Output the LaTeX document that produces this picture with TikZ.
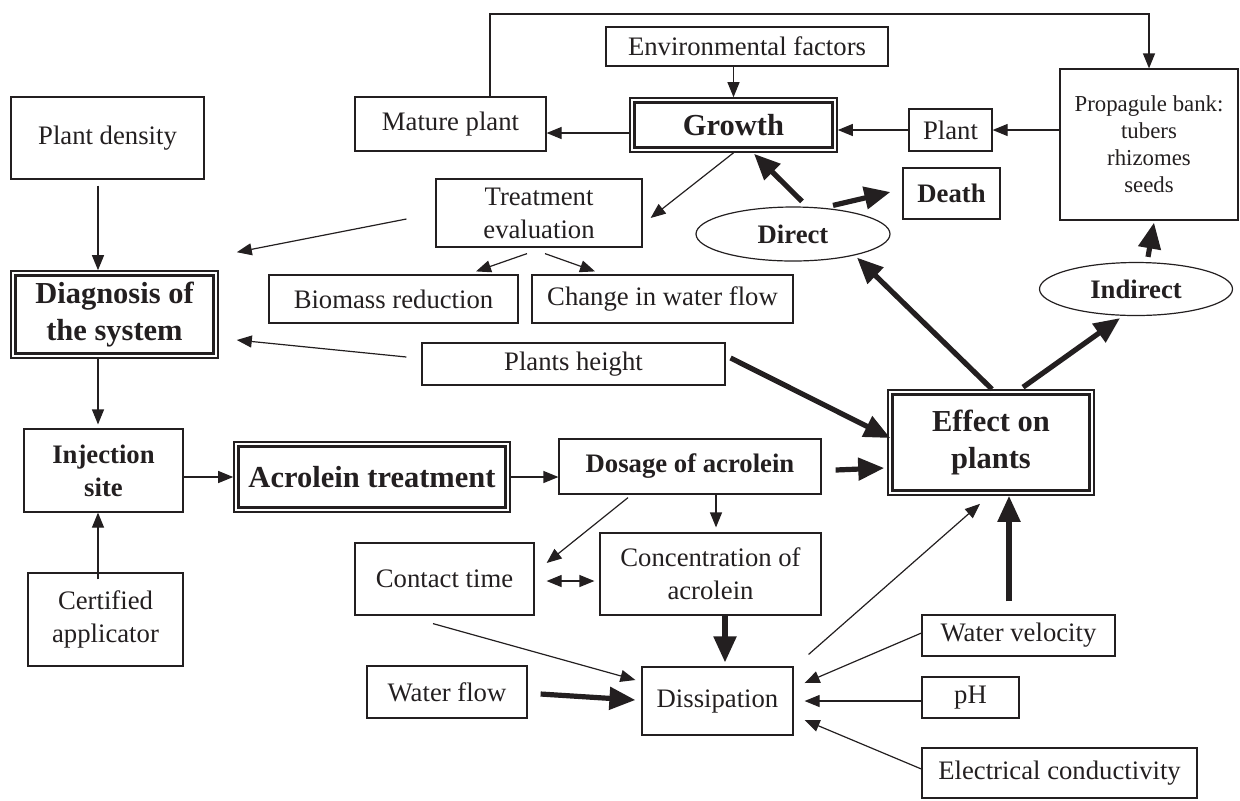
\documentclass[tikz,border=0pt]{standalone}
\usepackage{fontspec}
\setmainfont{Liberation Serif}
\usetikzlibrary{arrows.meta, shapes.geometric, calc}

\definecolor{ink}{RGB}{35,31,32}
\newcommand{\px}{0.5pt}
\newcommand{\txt}{\fontsize{13.35}{16.5}\selectfont}
\newcommand{\bigtxt}{\fontsize{15.25}{18.5}\selectfont\bfseries}
\newcommand{\smalltxt}{\fontsize{11.4}{13.5}\selectfont}

\begin{document}
\begin{tikzpicture}[x=0.5pt, y=-0.5pt,
  box/.style={draw=ink, line width=0.6pt, inner sep=0pt, align=center, font=\txt, text=ink},
  sz/.style 2 args={minimum width=#1*\px, minimum height=#2*\px},
  mainbox/.style={box, line width=0.8pt, font=\bigtxt},
  oval/.style={box, ellipse, font=\txt\bfseries},
  arr/.style={draw=ink, line width=0.6pt, -{Triangle[length=7.5pt, width=6pt]}},
  fat/.style={draw=ink, line width=2.6pt, -{Triangle[length=13pt, width=11pt]}}
]
\useasboundingbox (0,0) rectangle (1240,800);

% left column
\node[box, sz={193}{82}] (dens) at (107.5,138) {Plant density};
\node[mainbox, sz={207}{87}] (diag) at (114.5,314.5) {Diagnosis of\\the system};
\node[box, sz={159}{83}, font=\txt\bfseries] (inject) at (103.5,470.5) {Injection\\site};
\node[box, sz={155}{93}] (applic) at (105.5,619.5) {Certified\\applicator};

% plant cycle
\node[box, sz={191}{54}] (mature) at (450.5,124) {Mature plant};
\node[box, sz={282}{39}] (env) at (747,46.5) {Environmental factors};
\node[mainbox, sz={207}{54}] (growth) at (733.5,125) {Growth};
\node[box, sz={83}{42}] (plant) at (950.5,130) {Plant};
\node[box, sz={178}{151}, font=\smalltxt] (bank) at (1149,144.5) {Propagule bank:\\tubers\\rhizomes\\seeds};
\node[oval, sz={194}{54}] (direct) at (793,234) {Direct};
\node[box, sz={97}{51}, font=\txt\bfseries] (death) at (951.5,193.5) {Death};
\node[oval, sz={193}{53}] (indirect) at (1136,289) {Indirect};

% evaluation
\node[box, sz={206}{68}] (evalu) at (539,213) {Treatment\\evaluation};
\node[box, sz={249}{48}] (biomass) at (393.5,299) {Biomass reduction};
\node[box, sz={261}{48}] (flowchg) at (662.5,299) {Change in water flow};
\node[box, sz={303}{42}] (height) at (573.5,364) {Plants height};
\node[mainbox, sz={206}{105}] (effect) at (991,442.5) {Effect on\\plants};

% treatment
\node[mainbox, sz={276}{70}] (acro) at (372,477) {Acrolein treatment};
\node[box, sz={262}{55}, font=\txt\bfseries] (dose) at (690,466.5) {Dosage of acrolein};
\node[box, sz={179}{72}] (contact) at (444.5,579) {Contact time};
\node[box, sz={221}{82}] (conc) at (710.5,574) {Concentration of\\acrolein};
\node[box, sz={160}{52}] (flow) at (447,692) {Water flow};
\node[box, sz={151}{68}] (dissip) at (717.5,701) {Dissipation};
\node[box, sz={193}{41}] (veloc) at (1018.5,635.5) {Water velocity};
\node[box, sz={97}{41}] (ph) at (970.5,697.5) {pH};
\node[box, sz={275}{50}] (cond) at (1059.5,773) {Electrical conductivity};

\foreach \n in {growth, diag, acro, effect}
  \draw[ink, line width=1.4pt] ($(\n.north west)+(5,5)$) rectangle ($(\n.south east)+(-5,-5)$);

\coordinate (topline) at (0,14);
\draw[arr] ($(mature.north)+(39.5,0)$) |- (topline -| bank.north) -- (bank.north);
\draw[arr] (env.south -| growth.north) -- (growth.north);
\draw[arr] ($(growth.west)+(0,8)$) -- ($(mature.east)+(0,9)$);
\draw[arr] (plant.west) -- (plant.west -| growth.east);
\draw[arr] (bank.west |- plant.east) -- (plant.east);
\draw[arr] (growth.south) -- ($(evalu.east)+(8,5)$);
\draw[arr] ($(dens.south)+(-9.5,6)$) -- ($(diag.north)+(-16.5,0)$);
\draw[arr] ($(evalu.west)+(-29,6)$) -- ($(diag.north east)+(18,-18)$);
\draw[arr] ($(evalu.south)+(-12,6)$) -- ($(biomass.north)+(82.5,-3)$);
\draw[arr] ($(evalu.south)+(6,6)$) -- ($(flowchg.north)+(-67.5,-3)$);
\draw[arr] ($(height.west)+(-15,-7)$) -- ($(diag.east)+(18,25.5)$);
\draw[arr] ($(diag.south)+(-16.5,0)$) -- ($(inject.north)+(-5.5,-4)$);
\draw[arr] ($(applic.north)+(-7.5,7)$) -- ($(inject.south)+(-5.5,0)$);
\draw[arr] (inject.east |- acro.west) -- (acro.west);
\draw[arr] (acro.east) -- (acro.east -| dose.west);
\draw[arr] ($(dose.south)+(-62,3)$) -- ($(contact.east)+(12,-16)$);
\draw[arr] ($(dose.south)+(26,0)$) -- ($(conc.north)+(5.5,-5)$);
\draw[draw=ink, line width=0.6pt, {Triangle[length=7.5pt, width=6pt]}-{Triangle[length=7.5pt, width=6pt]}]
  ($(contact.east)+(12,2)$) -- ($(conc.west)+(-5,7)$);
\draw[arr] ($(contact.south)+(-11.5,8)$) -- ($(dissip.west)+(-6,-21)$);
\draw[arr] ($(dissip.north east)+(15,-12)$) -- ($(effect.south)+(-11,8)$);
\draw[arr] ($(veloc.west)+(0,-2.5)$) -- ($(dissip.east)+(11,-18)$);
\draw[arr] ($(ph.west)+(0,3.5)$) -- ($(dissip.east)+(11,0)$);
\draw[arr] ($(cond.west)+(0,-4)$) -- ($(dissip.east)+(11,19)$);

% thick arrows
\draw[fat] ($(height.east)+(5,-6)$) -- ($(effect.west)+(3,-4.5)$);
\draw[fat] ($(dose.east)+(14,3.5)$) -- ($(effect.west)+(-3,25.5)$);
\draw[fat] ($(flow.east)+(13,2)$) -- ($(dissip.west)+(-6,-1)$);
\draw[fat] ($(conc.south)+(14.5,0)$) -- ($(dissip.north)+(7.5,-4)$);
\draw[fat] ($(veloc.north)+(-9.5,-13)$) -- ($(effect.south)+(18,0)$);
\draw[fat] ($(direct.north)+(9,-5)$) -- ($(growth.south)+(20.5,1)$);
\draw[fat] ($(direct.north)+(40,-1)$) -- ($(death.west)+(-12,-1.5)$);
\draw[fat] ($(effect.north)+(1,0)$) -- ($(direct.south)+(64,-4)$);
\draw[fat] ($(effect.north)+(32,-2)$) -- ($(indirect.south)+(-16,2)$);
\draw[fat] ($(indirect.north)+(12,-5)$) -- ($(bank.south)+(5,2)$);
\end{tikzpicture}
\end{document}
